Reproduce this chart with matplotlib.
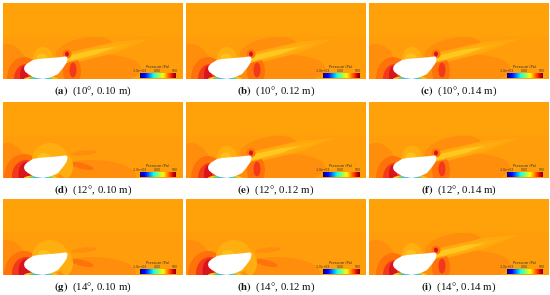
import numpy as np
import matplotlib
matplotlib.use("Agg")
import matplotlib.pyplot as plt
from matplotlib.patches import Ellipse, Polygon

# panels, row by row
letters = ['a', 'b', 'c', 'd', 'e', 'f', 'g', 'h', 'i']
angles = [10, 10, 10, 12, 12, 12, 14, 14, 14]
gaps = ['0.10', '0.12', '0.14', '0.10', '0.12', '0.14', '0.10', '0.12', '0.14']
# streak = long yellow wake, blob = separated wake
wakes = ['streak', 'streak', 'streak', 'blob', 'streak', 'streak', 'blob', 'blob', 'streak']

# colorbar ticks
bar_ticks = ['-1.0e+03', '0.00', '500']

# white body outline, pixels inside one panel
body_x = [24, 24.5, 26, 28, 33, 38, 44, 50, 56, 61, 65, 67, 67.5, 66.5, 63, 58, 54, 50, 43, 38, 33, 28, 25]
body_y = [10, 12.5, 14.5, 16, 19, 20, 20.5, 21, 21.5, 22, 22.5, 22, 20, 16, 11, 5, 3, 1.5, 0, 0.5, 2, 5, 7.5]

BG = '#ff9e0a'
TOP = '#ffa108'
MID = '#ff8e0c'
DEEP = '#ff720a'
RED = '#f4381a'
DARK = '#d8141c'
LIGHT = '#ffae10'
YEL = '#ffc01a'

x0s = [3, 186, 369]
y0s = [3, 102, 199]
body_shift = [-3, -2, 0]
bar_shift = [-3, -3, -2]
W, H = 180, 76
FW, FH = 550, 295


def blob(ax, x, y, w, h, c, ang=0, z=2):
    ax.add_patch(Ellipse((x, y), w, h, angle=ang, fc=c, ec='none', zorder=z))


# tapered wake, thick at the body and pointed at the far end
def taper(ax, x1, y1, x2, y2, w1, c, z):
    xm = x1 + (x2 - x1) * 0.6
    ym = y1 + (y2 - y1) * 0.6
    pts = [(x1, y1 + w1 / 2), (xm, ym + w1 * 0.45), (x2, y2), (xm, ym - w1 * 0.45), (x1, y1 - w1 / 2)]
    ax.add_patch(Polygon(pts, closed=True, fc=c, ec='none', zorder=z))


def streak_wake(ax, s):
    # wide orange fans behind the body
    blob(ax, 95 + s, 8, 92, 32, MID, 4, 2)
    blob(ax, 84 + s, 29, 58, 24, MID, 12, 2)
    taper(ax, 66 + s, 20, 150 + s, 40, 12, '#ffa70c', 3)
    taper(ax, 66 + s, 20, 134 + s, 36, 8, LIGHT, 4)
    taper(ax, 66 + s, 20, 116 + s, 32, 5.5, '#ffc81e', 5)
    blob(ax, 67 + s, 25, 9, 9, DEEP, 0, 5)
    blob(ax, 67 + s, 25, 4, 5, DARK, 0, 6)
    blob(ax, 72 + s, 8, 18, 28, DEEP, 0, 3)
    blob(ax, 73 + s, 9, 7, 15, RED, 0, 4)


def blob_wake(ax, s):
    blob(ax, 92 + s, 2, 88, 32, MID, 0, 2)
    blob(ax, 82 + s, 12, 24, 6, DEEP, -14, 3)
    blob(ax, 84 + s, 25, 26, 5, MID, 6, 3)
    blob(ax, 66 + s, 12, 14, 24, LIGHT, 0, 3)


def draw_panel(ax, wake, s, bs):
    ax.set_xlim(0, W)
    ax.set_ylim(0, H)
    ax.axis('off')
    ax.add_patch(plt.Rectangle((0, 0), W, H, fc=BG, ec='none', zorder=0))
    # top half is a bit lighter
    ax.add_patch(plt.Rectangle((0, 43), W, 33, fc=TOP, ec='none', zorder=1))

    # stagnation rings in front of the body
    blob(ax, 7 + s, 0, 46, 70, MID, 0, 2)
    if wake == 'streak':
        blob(ax, 24 + s, 0, 34, 44, DEEP, 0, 3)
        blob(ax, 26 + s, 0, 24, 30, RED, 0, 4)
        blob(ax, 24 + s, 4, 8, 18, DARK, 0, 5)
        # small bubble over the top of the body
        blob(ax, 43 + s, 20, 20, 24, LIGHT, 0, 3)
        blob(ax, 42 + s, 21, 11, 9, YEL, 0, 4)
        streak_wake(ax, s)
    else:
        blob(ax, 24 + s, 0, 40, 48, DEEP, 0, 3)
        blob(ax, 26 + s, 2, 28, 32, RED, 0, 4)
        blob(ax, 26 + s, 4, 15, 24, DARK, 0, 5)
        # big bubble, reaches round the back of the body
        blob(ax, 50 + s, 18, 36, 34, LIGHT, 0, 3)
        blob(ax, 44 + s, 20, 13, 10, YEL, 0, 4)
        blob_wake(ax, s)

    # low pressure under the body
    blob(ax, 41 + s, 0, 34, 6, YEL, 0, 6)
    blob(ax, 41 + s, 0, 24, 5, '#60d070', 0, 7)
    blob(ax, 41 + s, 0, 16, 4, '#30c0e0', 0, 7)
    blob(ax, 41 + s, 0, 8, 3, '#1060e0', 0, 7)

    # body
    ax.add_patch(Polygon(np.c_[np.array(body_x) + s, body_y], closed=True, fc='white', ec='none', zorder=8))

    # colorbar
    grad = np.linspace(0, 1, 64).reshape(1, -1)
    ax.imshow(grad, cmap='jet', extent=(140 + bs, 176 + bs, 1, 6), aspect='auto', zorder=9)
    ax.set_xlim(0, W)
    ax.set_ylim(0, H)
    ax.text(158 + bs, 12, 'Pressure (Pa)', fontsize=2.6, ha='center', va='center', color='#333333', zorder=10)
    for tx, lab in zip([140, 157, 175], bar_ticks):
        ax.text(tx + bs, 8, lab, fontsize=2.2, ha='center', va='center', color='#333333', zorder=10)


fig = plt.figure(figsize=(5.5, 2.95), dpi=100, facecolor='white')

for i in range(9):
    col = i % 3
    x0 = x0s[col]
    y0 = y0s[i // 3]
    ax = fig.add_axes([x0 / FW, 1 - (y0 + H) / FH, W / FW, H / FH])
    draw_panel(ax, wakes[i], body_shift[col], bar_shift[col])
    xc = (x0 + W / 2) / FW
    yc = 1 - (y0 + H + 12.5) / FH
    fig.text(xc, yc, f'$\\mathbf{{({letters[i]})}}$  ({angles[i]}°, {gaps[i]} m)',
             ha='center', va='center', fontsize=7.8, family='Liberation Serif',
             math_fontfamily='stix', color='#111111')

fig.savefig('out.png', dpi=100)
